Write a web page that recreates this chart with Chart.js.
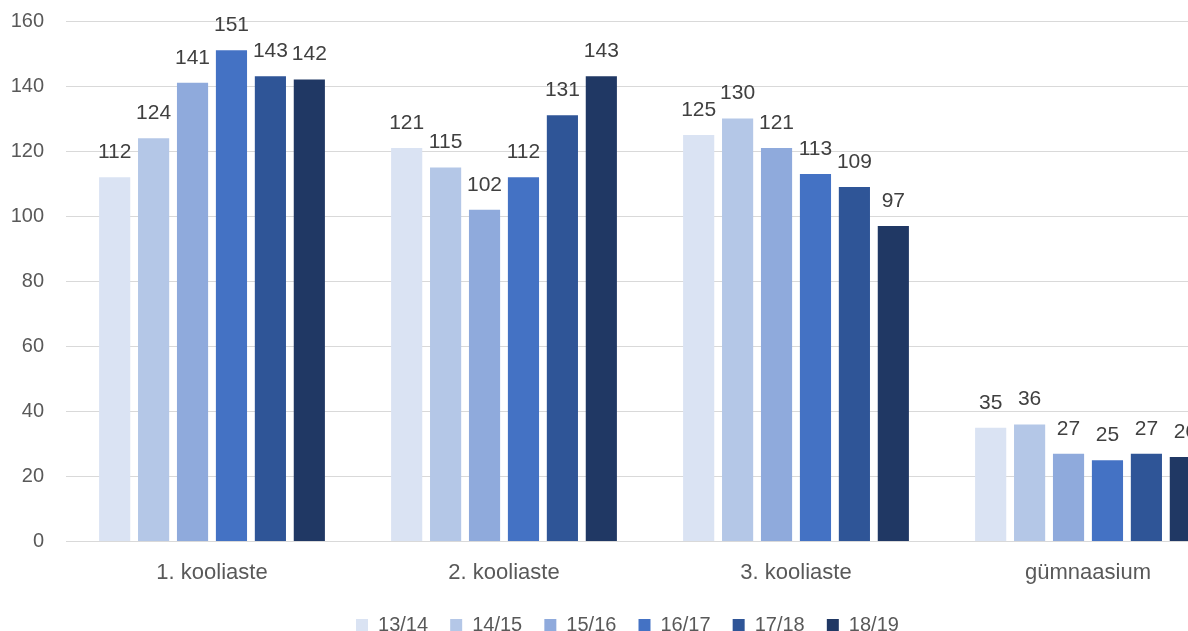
<!DOCTYPE html>
<html>
<head>
<meta charset="utf-8">
<script src="https://cdn.jsdelivr.net/npm/chart.js@4.4.1/dist/chart.umd.min.js"></script>
<style>
  html, body { margin: 0; padding: 0; background: #ffffff; overflow: hidden; }
  #wrap { width: 1188px; height: 631px; overflow: hidden; }
  #barchart { display: block; margin-top: -13px; }
</style>
</head>
<body>
<div id="wrap"><canvas id="barchart" width="1256" height="658"></canvas></div>
<script>
// categories and years
var categories = ["1. kooliaste", "2. kooliaste", "3. kooliaste", "gümnaasium"];
var years = ["13/14", "14/15", "15/16", "16/17", "17/18", "18/19"];

// values per year (one entry per category)
var v1314 = [112, 121, 125, 35];
var v1415 = [124, 115, 130, 36];
var v1516 = [141, 102, 121, 27];
var v1617 = [151, 112, 113, 25];
var v1718 = [143, 131, 109, 27];
var v1819 = [142, 143, 97, 26];

var yTicks = [0, 20, 40, 60, 80, 100, 120, 140, 160];

var colors = ['#dae3f3', '#b4c7e7', '#8faadc', '#4472c4', '#2f5597', '#203864'];
var allValues = [v1314, v1415, v1516, v1617, v1718, v1819];

var datasets = [];
for (var i = 0; i < years.length; i++) {
  datasets.push({
    label: years[i],
    data: allValues[i],
    backgroundColor: colors[i],
    borderWidth: 0,
    categoryPercentage: 0.8,
    barPercentage: 0.8
  });
}

// value labels above the bars
var barLabels = {
  id: 'barLabels',
  afterLayout: function(chart) {
    // nudge the legend a bit to the right, like in the original
    chart.legend.left += 11;
    chart.legend.right += 11;
  },
  afterDatasetsDraw: function(chart) {
    var ctx = chart.ctx;
    ctx.save();
    ctx.font = '21px "Liberation Sans", Arial, sans-serif';
    ctx.fillStyle = '#404040';
    ctx.textAlign = 'center';
    ctx.textBaseline = 'middle';
    chart.data.datasets.forEach(function(ds, i) {
      var meta = chart.getDatasetMeta(i);
      meta.data.forEach(function(bar, j) {
        ctx.fillText(ds.data[j], bar.x, bar.y - 25);
      });
    });
    ctx.restore();
  }
};

Chart.defaults.font.family = '"Liberation Sans", Arial, sans-serif';
Chart.defaults.font.size = 20;
Chart.defaults.color = '#595959';

const myChart = new Chart(document.getElementById('barchart'), {
  type: 'bar',
  data: { labels: categories, datasets: datasets },
  options: {
    responsive: false,
    animation: false,
    layout: { padding: { left: 10, right: 22, top: 8, bottom: 0 } },
    plugins: {
      legend: {
        position: 'bottom',
        labels: {
          boxWidth: 12, boxHeight: 12, padding: 11, color: '#595959',
          generateLabels: function(chart) {
            var items = Chart.defaults.plugins.legend.labels.generateLabels(chart);
            items.forEach(function(it) { it.text = it.text + '  '; });
            return items;
          }
        }
      },
      tooltip: { enabled: false }
    },
    scales: {
      x: {
        grid: { display: false, drawTicks: false },
        border: { color: '#d9d9d9' },
        ticks: { padding: 18, color: '#595959', font: { size: 22 } }
      },
      y: {
        min: 0,
        max: 160,
        afterBuildTicks: function(s) { s.ticks = yTicks.map(function(v) { return { value: v }; }); },
        afterFit: function(s) { s.width = 56; },
        grid: { color: '#d9d9d9', drawTicks: false },
        border: { display: false },
        ticks: { padding: 22, color: '#595959' }
      }
    }
  },
  plugins: [barLabels]
});
</script>
</body>
</html>
